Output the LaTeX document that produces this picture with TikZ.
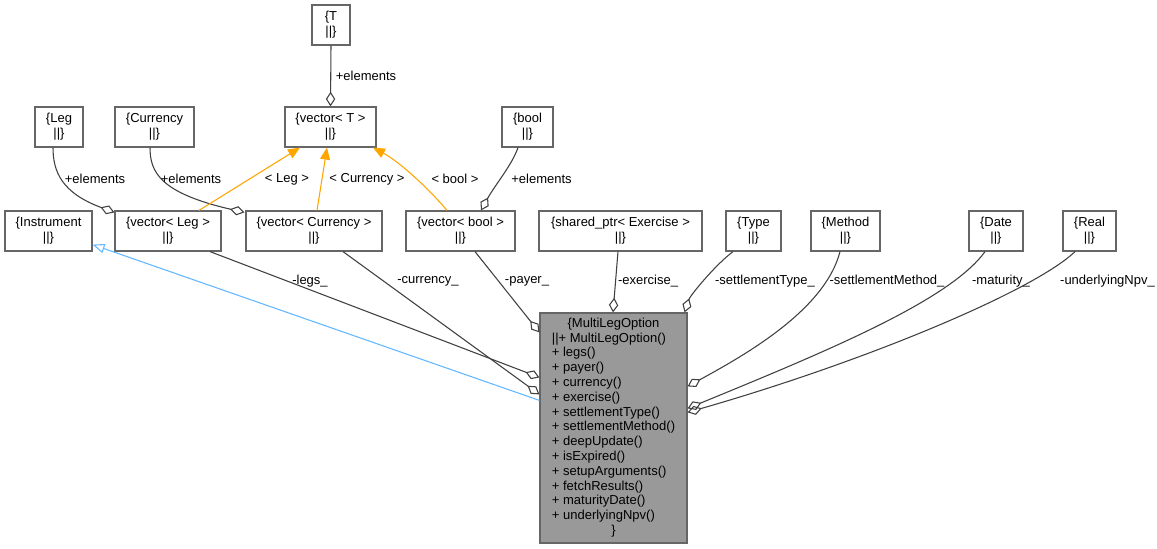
\documentclass[tikz,border=0pt]{standalone}
\usepackage{fontspec}
\setmainfont{Liberation Sans}
\usetikzlibrary{arrows.meta,calc}
\definecolor{edgegray}{HTML}{404040}
\definecolor{boxgray}{HTML}{666666}
\definecolor{mainfill}{HTML}{999999}
\definecolor{inhorange}{HTML}{FFA500}
\definecolor{inhblue}{HTML}{63B8FF}
\begin{document}
\begin{tikzpicture}[x=0.75pt,y=-0.75pt,
 every node/.style={font=\fontsize{9.75}{11.1}\selectfont, inner sep=0pt},
 cls/.style={draw=boxgray, line width=0.9pt, fill=white, align=center, minimum height=30pt},
 mainbox/.style={draw=boxgray, line width=0.9pt, fill=mainfill},
 agg/.style={draw=edgegray, line width=0.8pt, {Diamond[open,length=11pt,width=7pt]}-},
 tmpl/.style={draw=inhorange, line width=0.8pt, -{Triangle[length=9pt,width=7.5pt]}},
 inh/.style={draw=inhblue, line width=0.8pt, -{Triangle[open,length=9pt,width=7pt]}},
 lbl/.style={text=black},
]
\path[use as bounding box, fill=white] (0,0) rectangle (1157,549);

% class nodes
\node[cls, minimum width=28.5pt] (T) at (331,25) {\{T\\||\}};
\node[cls, minimum width=68.25pt] (vT) at (330.5,127) {\{vector< T >\\||\}};
\node[cls, minimum width=36pt] (leg) at (59,127) {\{Leg\\||\}};
\node[cls, minimum width=59.25pt] (cur) at (154.5,127) {\{Currency\\||\}};
\node[cls, minimum width=38.25pt] (bool) at (527.5,127) {\{bool\\||\}};
\node[cls, minimum width=65.25pt] (instr) at (48.5,231) {\{Instrument\\||\}};
\node[cls, minimum width=79.5pt] (vleg) at (168,231) {\{vector< Leg >\\||\}};
\node[cls, minimum width=102pt] (vcur) at (314,231) {\{vector< Currency >\\||\}};
\node[cls, minimum width=81.75pt] (vbool) at (460.5,231) {\{vector< bool >\\||\}};
\node[cls, minimum width=122.25pt] (sp) at (620.5,231) {\{shared\_ptr< Exercise >\\||\}};
\node[cls, minimum width=41.25pt] (type) at (753.5,231) {\{Type\\||\}};
\node[cls, minimum width=51.75pt] (method) at (845.5,231) {\{Method\\||\}};
\node[cls, minimum width=40.5pt] (date) at (996,231) {\{Date\\||\}};
\node[cls, minimum width=39.75pt] (real) at (1089.5,231) {\{Real\\||\}};

\node[mainbox, minimum width=110.25pt, minimum height=172.5pt] (mlo) at (613.5,428)
 {\begin{tabular}{@{}l@{}}
 \multicolumn{1}{@{}c@{}}{\{MultiLegOption}\\
 ||+ MultiLegOption()\\
 + legs()\\
 + payer()\\
 + currency()\\
 + exercise()\\
 + settlementType()\\
 + settlementMethod()\\
 + deepUpdate()\\
 + isExpired()\\
 + setupArguments()\\
 + fetchResults()\\
 + maturityDate()\\
 + underlyingNpv()\\
 \multicolumn{1}{@{}c@{}}{\}}
 \end{tabular}};

% aggregation: elements
\draw[agg] (vT.north) -- (T.south);
\draw[agg] ($(vleg.north west)+(0,2)$) .. controls (62,193) and (53,172) .. ($(leg.south)+(-6,0)$);
\draw[agg] ($(vcur.north west)+(-1,2)$) .. controls (160,193) and (150,172) .. ($(cur.south)+(-4.5,0)$);
\draw[agg] ($(vbool.north)+(20.5,0)$) .. controls (495,185) and (512,165) .. ($(bool.south)+(-9.5,0)$);

% template instantiation
\draw[tmpl] ($(vleg.north)+(31,0)$) -- ($(vT.south)+(-30.5,0)$);
\draw[tmpl] ($(vcur.north)+(3,0)$) -- ($(vT.south)+(-3.5,0)$);
\draw[tmpl] ($(vbool.north)+(-13.5,0)$) .. controls (430,190) and (400,162) .. ($(vT.south)+(42.5,0)$);

% inheritance
\draw[inh] ($(mlo.north west)+(0,88)$) -- ($(instr.south east)+(0,-7)$);

% members
\draw[agg] ($(mlo.north west)+(0,65)$) -- ($(vleg.south)+(42,0)$);
\draw[agg] ($(mlo.north west)+(0,82)$) -- ($(vcur.south)+(29,0)$);
\draw[agg] ($(mlo.north west)+(0,20)$) -- ($(vbool.south)+(14.5,0)$);
\draw[agg] ($(mlo.north)+(-0.5,0)$) -- ($(sp.south)+(-2.5,0)$);
\draw[agg] ($(mlo.north east)+(-3,0)$) .. controls (690,296) and (714,266) .. ($(type.south)+(-20.5,0)$);
\draw[agg] ($(mlo.north east)+(0,74)$) .. controls (745,355) and (825,310) .. ($(method.south)+(-5.5,0)$);
\draw[agg] ($(mlo.north east)+(0,96)$) .. controls (830,350) and (950,300) .. ($(date.south)+(-11,0)$);
\draw[agg] ($(mlo.north east)+(0,100)$) .. controls (870,360) and (1035,290) .. ($(real.south)+(-14.5,0)$);

% labels
\node[lbl] (l1) at (366,76) {+elements};
\node[lbl] (l2) at (95,179) {+elements};
\node[lbl] (l3) at (191,179) {+elements};
\node[lbl] (l4) at (541.5,179) {+elements};
\node[lbl] (l5) at (287,179) {< Leg >};
\node[lbl] (l6) at (367,179) {< Currency >};
\node[lbl] (l7) at (455,179) {< bool >};
\node[lbl] (l8) at (310,281) {-legs\_};
\node[lbl] (l9) at (428,281) {-currency\_};
\node[lbl] (l10) at (527,281) {-payer\_};
\node[lbl] (l11) at (648,281) {-exercise\_};
\node[lbl] (l12) at (765,281) {-settlementType\_};
\node[lbl] (l13) at (887,281) {-settlementMethod\_};
\node[lbl] (l14) at (1001,281) {-maturity\_};
\node[lbl] (l15) at (1107.5,281) {-underlyingNpv\_};
\end{tikzpicture}
\end{document}
